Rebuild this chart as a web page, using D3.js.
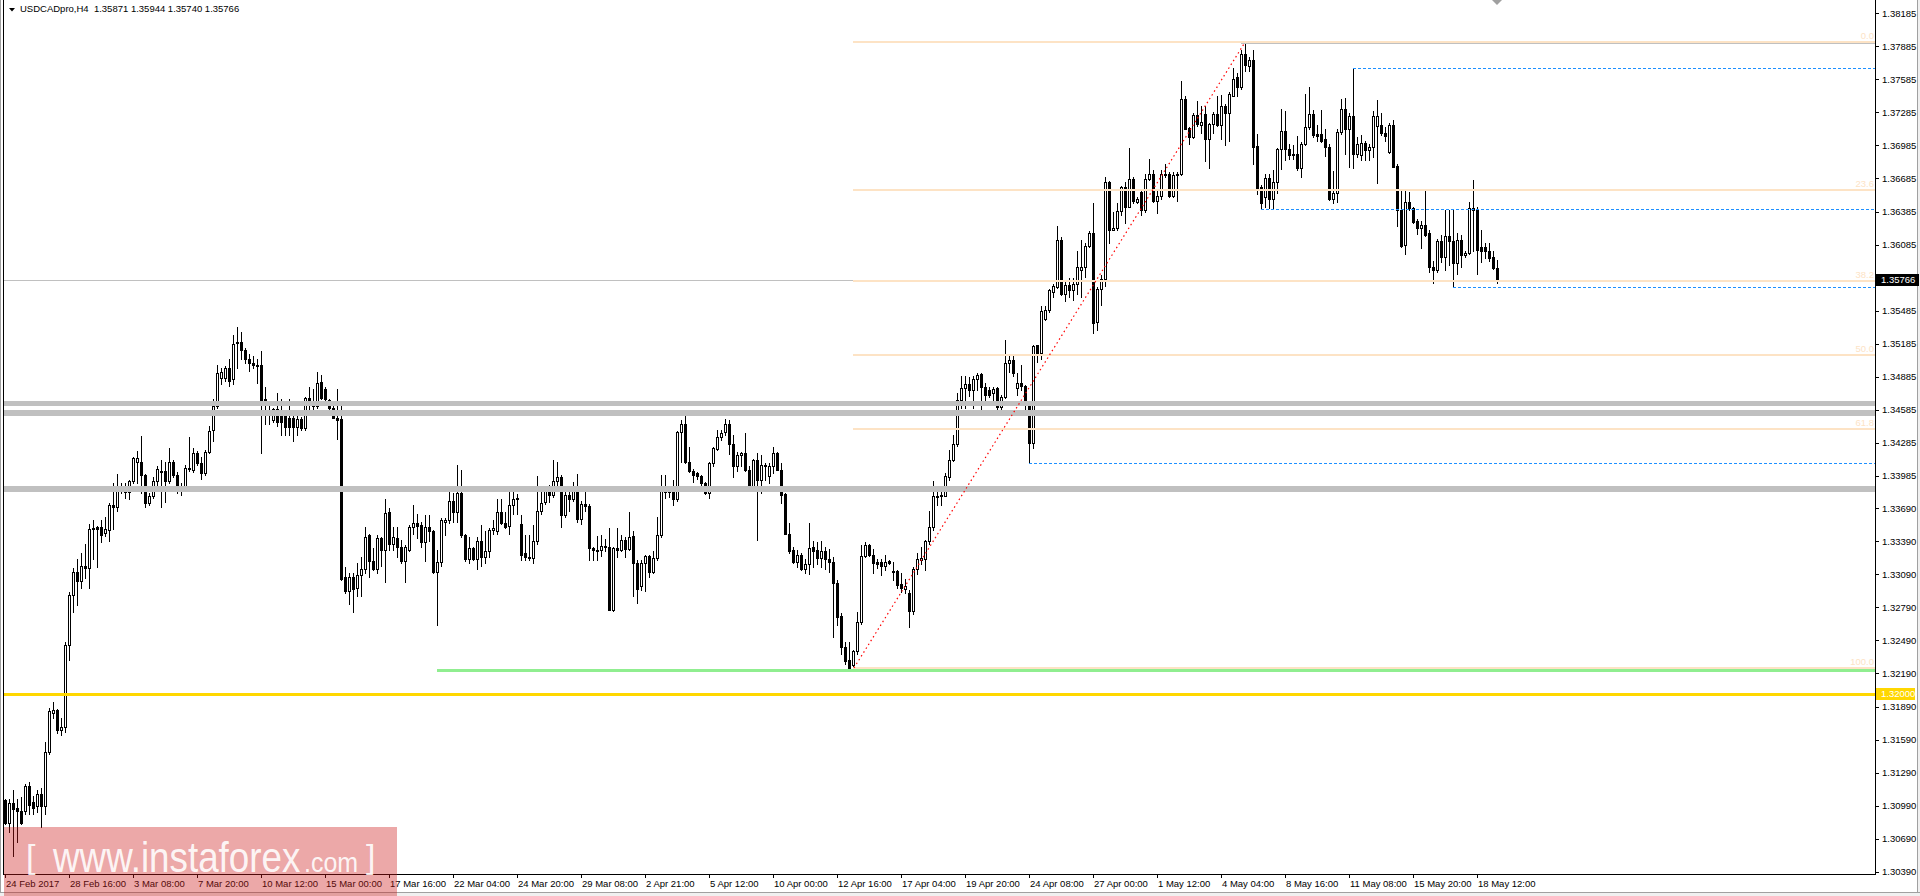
<!DOCTYPE html>
<html><head><meta charset="utf-8">
<script src="https://cdn.jsdelivr.net/npm/d3@7/dist/d3.min.js"></script>
<style>html,body{margin:0;padding:0;background:#fff;overflow:hidden}</style>
</head><body>
<svg id="c" width="1920" height="896"></svg>
<script>
// ---------- DATA ----------
const symbolTitle = "USDCADpro,H4  1.35871 1.35944 1.35740 1.35766";
// H4 candles: [open, high, low, close]
const ohlc = [
[1.3104,1.3105,1.3082,1.3083],[1.3083,1.3105,1.3075,1.3101],[1.3101,1.3113,1.3053,1.3096],[1.3097,1.3105,1.3066,1.3094],
[1.3094,1.3107,1.3082,1.3083],[1.3094,1.3119,1.3091,1.3117],[1.3117,1.3120,1.3091,1.3100],[1.3102,1.3108,1.3091,1.3097],
[1.3099,1.3113,1.3093,1.3110],[1.3110,1.3115,1.3080,1.3099],[1.3099,1.3157,1.3091,1.3148],[1.3148,1.3188,1.3146,1.3185],
[1.3183,1.3193,1.3179,1.3186],[1.3186,1.3187,1.3165,1.3168],[1.3168,1.3179,1.3163,1.3170],[1.3170,1.3248,1.3166,1.3245],
[1.3245,1.3293,1.3231,1.3290],[1.3290,1.3315,1.3275,1.3311],[1.3311,1.3323,1.3281,1.3303],[1.3303,1.3328,1.3297,1.3317],
[1.3317,1.3337,1.3306,1.3315],[1.3315,1.3355,1.3297,1.3350],[1.3350,1.3358,1.3323,1.3351],[1.3352,1.3353,1.3316,1.3350],
[1.3352,1.3358,1.3338,1.3345],[1.3347,1.3361,1.3344,1.3350],[1.3349,1.3374,1.3339,1.3372],[1.3372,1.3392,1.3350,1.3370],
[1.3370,1.3400,1.3367,1.3388],[1.3388,1.3392,1.3383,1.3386],[1.3387,1.3392,1.3378,1.3384],[1.3384,1.3395,1.3377,1.3394],
[1.3394,1.3416,1.3392,1.3415],[1.3411,1.3421,1.3392,1.3415],[1.3411,1.3435,1.3383,1.3399],[1.3399,1.3400,1.3370,1.3374],
[1.3374,1.3383,1.3372,1.3380],[1.3380,1.3397,1.3378,1.3394],[1.3394,1.3407,1.3385,1.3405],[1.3402,1.3413,1.3370,1.3403],
[1.3403,1.3411,1.3375,1.3394],[1.3394,1.3424,1.3392,1.3411],[1.3411,1.3413,1.3397,1.3399],[1.3399,1.3402,1.3383,1.3388],
[1.3388,1.3392,1.3381,1.3386],[1.3386,1.3408,1.3386,1.3406],[1.3405,1.3434,1.3403,1.3406],[1.3404,1.3424,1.3402,1.3419],
[1.3419,1.3421,1.3408,1.3410],[1.3410,1.3416,1.3396,1.3401],[1.3401,1.3422,1.3399,1.3420],[1.3420,1.3444,1.3419,1.3439],
[1.3440,1.3468,1.3430,1.3462],[1.3462,1.3499,1.3460,1.3492],[1.3487,1.3496,1.3482,1.3493],[1.3487,1.3498,1.3485,1.3496],
[1.3496,1.3505,1.3480,1.3485],[1.3486,1.3526,1.3482,1.3518],[1.3520,1.3534,1.3496,1.3519],[1.3520,1.3529,1.3505,1.3513],
[1.3513,1.3515,1.3501,1.3505],[1.3505,1.3509,1.3494,1.3501],[1.3501,1.3507,1.3496,1.3499],[1.3499,1.3505,1.3483,1.3498],
[1.3499,1.3512,1.3419,1.3466],[1.3468,1.3479,1.3446,1.3464],[1.3465,1.3466,1.3446,1.3463],[1.3449,1.3460,1.3447,1.3459],
[1.3459,1.3474,1.3444,1.3447],[1.3458,1.3468,1.3436,1.3447],[1.3458,1.3458,1.3436,1.3443],[1.3451,1.3468,1.3436,1.3443],
[1.3451,1.3455,1.3430,1.3443],[1.3443,1.3455,1.3436,1.3450],[1.3450,1.3452,1.3440,1.3442],[1.3442,1.3470,1.3440,1.3469],
[1.3469,1.3479,1.3454,1.3464],[1.3465,1.3477,1.3457,1.3462],[1.3462,1.3493,1.3460,1.3483],[1.3484,1.3490,1.3468,1.3469],
[1.3477,1.3479,1.3466,1.3468],[1.3467,1.3468,1.3458,1.3460],[1.3460,1.3465,1.3451,1.3451],[1.3451,1.3477,1.3432,1.3449],
[1.3450,1.3465,1.3304,1.3305],[1.3307,1.3316,1.3292,1.3294],[1.3294,1.3310,1.3282,1.3307],[1.3307,1.3310,1.3275,1.3296],
[1.3297,1.3319,1.3289,1.3308],[1.3308,1.3325,1.3289,1.3314],[1.3314,1.3352,1.3310,1.3343],[1.3345,1.3346,1.3307,1.3321],
[1.3321,1.3333,1.3313,1.3314],[1.3314,1.3345,1.3310,1.3342],[1.3342,1.3343,1.3317,1.3331],[1.3331,1.3377,1.3302,1.3365],
[1.3366,1.3369,1.3331,1.3337],[1.3337,1.3352,1.3331,1.3343],[1.3342,1.3352,1.3325,1.3334],[1.3334,1.3340,1.3319,1.3321],
[1.3321,1.3336,1.3302,1.3334],[1.3331,1.3354,1.3330,1.3352],[1.3352,1.3372,1.3346,1.3356],[1.3356,1.3364,1.3342,1.3353],
[1.3354,1.3357,1.3334,1.3338],[1.3338,1.3363,1.3321,1.3352],[1.3352,1.3363,1.3339,1.3348],[1.3348,1.3349,1.3310,1.3311],
[1.3311,1.3331,1.3263,1.3320],[1.3320,1.3360,1.3317,1.3358],[1.3357,1.3360,1.3345,1.3358],[1.3358,1.3386,1.3356,1.3376],
[1.3376,1.3383,1.3357,1.3366],[1.3366,1.3408,1.3357,1.3383],[1.3383,1.3404,1.3343,1.3345],[1.3345,1.3346,1.3321,1.3323],
[1.3323,1.3343,1.3319,1.3333],[1.3333,1.3334,1.3322,1.3323],[1.3323,1.3343,1.3314,1.3339],[1.3339,1.3354,1.3317,1.3325],
[1.3325,1.3348,1.3319,1.3330],[1.3330,1.3351,1.3325,1.3349],[1.3349,1.3358,1.3346,1.3351],[1.3348,1.3377,1.3346,1.3366],
[1.3366,1.3377,1.3355,1.3356],[1.3356,1.3366,1.3351,1.3352],[1.3353,1.3384,1.3346,1.3372],[1.3372,1.3385,1.3364,1.3377],
[1.3378,1.3382,1.3364,1.3378],[1.3355,1.3363,1.3322,1.3327],[1.3328,1.3345,1.3322,1.3325],[1.3325,1.3345,1.3322,1.3325],
[1.3324,1.3354,1.3319,1.3339],[1.3339,1.3398,1.3337,1.3367],[1.3367,1.3386,1.3364,1.3374],[1.3375,1.3388,1.3373,1.3386],
[1.3386,1.3390,1.3375,1.3381],[1.3381,1.3413,1.3379,1.3394],[1.3394,1.3411,1.3390,1.3397],[1.3397,1.3399,1.3352,1.3363],
[1.3363,1.3384,1.3361,1.3381],[1.3381,1.3386,1.3367,1.3377],[1.3377,1.3393,1.3376,1.3389],[1.3389,1.3400,1.3357,1.3359],
[1.3359,1.3376,1.3355,1.3373],[1.3373,1.3389,1.3367,1.3371],[1.3371,1.3373,1.3322,1.3333],[1.3333,1.3334,1.3322,1.3331],
[1.3331,1.3344,1.3322,1.3331],[1.3331,1.3345,1.3326,1.3335],[1.3335,1.3341,1.3330,1.3334],[1.3334,1.3351,1.3277,1.3277],
[1.3277,1.3334,1.3276,1.3333],[1.3333,1.3351,1.3325,1.3331],[1.3331,1.3345,1.3330,1.3340],[1.3340,1.3343,1.3325,1.3332],
[1.3332,1.3366,1.3331,1.3343],[1.3344,1.3348,1.3289,1.3319],[1.3319,1.3322,1.3283,1.3296],[1.3298,1.3322,1.3295,1.3319],
[1.3319,1.3327,1.3294,1.3326],[1.3326,1.3327,1.3307,1.3311],[1.3311,1.3330,1.3310,1.3324],[1.3324,1.3361,1.3322,1.3345],
[1.3345,1.3399,1.3343,1.3387],[1.3387,1.3399,1.3378,1.3384],[1.3384,1.3388,1.3379,1.3385],[1.3384,1.3395,1.3372,1.3377],
[1.3377,1.3439,1.3376,1.3438],[1.3438,1.3449,1.3411,1.3446],[1.3446,1.3455,1.3410,1.3411],[1.3411,1.3425,1.3402,1.3403],
[1.3403,1.3405,1.3393,1.3399],[1.3401,1.3402,1.3396,1.3398],[1.3398,1.3399,1.3385,1.3392],[1.3392,1.3393,1.3382,1.3383],
[1.3383,1.3411,1.3378,1.3410],[1.3410,1.3425,1.3407,1.3424],[1.3423,1.3440,1.3422,1.3434],[1.3434,1.3440,1.3431,1.3437],
[1.3438,1.3450,1.3436,1.3446],[1.3446,1.3449,1.3418,1.3427],[1.3427,1.3436,1.3397,1.3407],[1.3407,1.3420,1.3403,1.3417],
[1.3417,1.3420,1.3407,1.3419],[1.3419,1.3437,1.3403,1.3404],[1.3404,1.3407,1.3386,1.3386],[1.3387,1.3414,1.3386,1.3413],
[1.3413,1.3419,1.3340,1.3395],[1.3395,1.3417,1.3383,1.3408],[1.3408,1.3410,1.3395,1.3407],[1.3398,1.3410,1.3392,1.3407],
[1.3407,1.3425,1.3401,1.3419],[1.3419,1.3420,1.3404,1.3404],[1.3404,1.3410,1.3374,1.3381],[1.3382,1.3383,1.3346,1.3346],
[1.3346,1.3356,1.3328,1.3330],[1.3331,1.3334,1.3319,1.3320],[1.3320,1.3331,1.3316,1.3327],[1.3327,1.3328,1.3313,1.3314],
[1.3314,1.3323,1.3310,1.3318],[1.3318,1.3356,1.3309,1.3333],[1.3334,1.3339,1.3316,1.3330],[1.3331,1.3338,1.3318,1.3324],
[1.3324,1.3339,1.3316,1.3330],[1.3330,1.3334,1.3314,1.3323],[1.3323,1.3332,1.3311,1.3320],[1.3320,1.3325,1.3252,1.3301],
[1.3301,1.3304,1.3263,1.3270],[1.3271,1.3274,1.3237,1.3243],[1.3243,1.3248,1.3228,1.3230],[1.3231,1.3248,1.3222,1.3224],
[1.3227,1.3240,1.3224,1.3239],[1.3239,1.3275,1.3237,1.3266],[1.3266,1.3336,1.3264,1.3326],[1.3326,1.3338,1.3325,1.3336],
[1.3336,1.3337,1.3326,1.3327],[1.3327,1.3332,1.3310,1.3319],[1.3320,1.3323,1.3315,1.3318],[1.3320,1.3323,1.3308,1.3317],
[1.3317,1.3327,1.3313,1.3320],[1.3321,1.3322,1.3318,1.3319],[1.3312,1.3320,1.3304,1.3312],[1.3312,1.3313,1.3297,1.3299],
[1.3300,1.3310,1.3293,1.3297],[1.3296,1.3305,1.3292,1.3298],[1.3292,1.3295,1.3261,1.3276],[1.3276,1.3316,1.3273,1.3314],
[1.3314,1.3328,1.3309,1.3323],[1.3322,1.3334,1.3318,1.3324],[1.3323,1.3340,1.3313,1.3339],[1.3339,1.3367,1.3337,1.3352],
[1.3352,1.3394,1.3349,1.3380],[1.3380,1.3387,1.3372,1.3380],[1.3381,1.3389,1.3372,1.3380],[1.3380,1.3401,1.3380,1.3398],
[1.3397,1.3422,1.3395,1.3413],[1.3413,1.3436,1.3412,1.3427],[1.3427,1.3474,1.3426,1.3467],[1.3467,1.3489,1.3460,1.3478],
[1.3478,1.3489,1.3460,1.3482],[1.3482,1.3488,1.3471,1.3476],[1.3476,1.3489,1.3460,1.3486],[1.3486,1.3492,1.3476,1.3490],
[1.3491,1.3492,1.3455,1.3479],[1.3479,1.3483,1.3467,1.3472],[1.3476,1.3479,1.3470,1.3472],[1.3474,1.3479,1.3463,1.3477],
[1.3478,1.3479,1.3458,1.3461],[1.3461,1.3472,1.3458,1.3470],[1.3470,1.3522,1.3469,1.3501],[1.3501,1.3508,1.3493,1.3504],
[1.3504,1.3508,1.3489,1.3492],[1.3478,1.3492,1.3472,1.3483],[1.3483,1.3499,1.3476,1.3480],[1.3480,1.3481,1.3458,1.3463],
[1.3464,1.3464,1.3410,1.3428],[1.3428,1.3517,1.3424,1.3516],[1.3517,1.3517,1.3502,1.3510],[1.3510,1.3553,1.3505,1.3548],
[1.3541,1.3553,1.3540,1.3549],[1.3549,1.3568,1.3547,1.3567],[1.3565,1.3573,1.3561,1.3571],[1.3570,1.3625,1.3569,1.3613],
[1.3613,1.3615,1.3563,1.3564],[1.3564,1.3575,1.3557,1.3572],[1.3572,1.3578,1.3561,1.3567],[1.3567,1.3578,1.3558,1.3573],
[1.3573,1.3603,1.3564,1.3588],[1.3585,1.3613,1.3561,1.3588],[1.3588,1.3610,1.3579,1.3607],[1.3607,1.3621,1.3606,1.3619],
[1.3619,1.3646,1.3528,1.3537],[1.3538,1.3570,1.3531,1.3568],[1.3568,1.3581,1.3554,1.3577],[1.3577,1.3670,1.3571,1.3665],
[1.3665,1.3666,1.3610,1.3622],[1.3622,1.3638,1.3622,1.3624],[1.3624,1.3646,1.3622,1.3639],[1.3639,1.3662,1.3635,1.3661],
[1.3661,1.3665,1.3628,1.3643],[1.3643,1.3696,1.3643,1.3668],[1.3668,1.3670,1.3646,1.3648],[1.3647,1.3652,1.3646,1.3650],
[1.3656,1.3658,1.3635,1.3640],[1.3640,1.3673,1.3638,1.3668],[1.3668,1.3686,1.3667,1.3673],[1.3673,1.3676,1.3647,1.3648],
[1.3648,1.3658,1.3637,1.3653],[1.3653,1.3676,1.3650,1.3673],[1.3672,1.3682,1.3670,1.3673],[1.3673,1.3674,1.3652,1.3653],
[1.3653,1.3674,1.3652,1.3672],[1.3672,1.3674,1.3648,1.3673],[1.3673,1.3757,1.3672,1.3741],[1.3741,1.3743,1.3713,1.3713],
[1.3714,1.3715,1.3700,1.3706],[1.3706,1.3728,1.3705,1.3726],[1.3726,1.3739,1.3716,1.3718],[1.3717,1.3734,1.3710,1.3720],
[1.3727,1.3734,1.3684,1.3704],[1.3704,1.3719,1.3678,1.3718],[1.3718,1.3729,1.3710,1.3727],[1.3727,1.3743,1.3716,1.3717],
[1.3717,1.3744,1.3704,1.3734],[1.3734,1.3736,1.3699,1.3728],[1.3728,1.3747,1.3703,1.3745],[1.3743,1.3769,1.3743,1.3759],
[1.3761,1.3764,1.3743,1.3752],[1.3752,1.3785,1.3750,1.3782],[1.3782,1.3792,1.3766,1.3772],[1.3771,1.3779,1.3766,1.3776],
[1.3776,1.3785,1.3682,1.3697],[1.3698,1.3709,1.3654,1.3660],[1.3661,1.3663,1.3641,1.3646],[1.3652,1.3673,1.3643,1.3669],
[1.3669,1.3673,1.3642,1.3650],[1.3650,1.3676,1.3642,1.3665],[1.3665,1.3696,1.3655,1.3695],[1.3695,1.3732,1.3677,1.3712],
[1.3712,1.3730,1.3685,1.3695],[1.3695,1.3700,1.3686,1.3690],[1.3691,1.3699,1.3686,1.3691],[1.3691,1.3707,1.3676,1.3678],
[1.3678,1.3702,1.3670,1.3700],[1.3700,1.3745,1.3699,1.3715],[1.3715,1.3752,1.3713,1.3727],[1.3727,1.3731,1.3706,1.3708],
[1.3709,1.3717,1.3703,1.3707],[1.3709,1.3731,1.3702,1.3703],[1.3704,1.3713,1.3689,1.3697],[1.3697,1.3700,1.3649,1.3650],
[1.3650,1.3675,1.3646,1.3655],[1.3655,1.3713,1.3647,1.3711],[1.3711,1.3741,1.3709,1.3732],[1.3732,1.3742,1.3691,1.3713],
[1.3713,1.3728,1.3679,1.3725],[1.3725,1.3769,1.3678,1.3691],[1.3691,1.3706,1.3688,1.3700],[1.3690,1.3708,1.3685,1.3701],
[1.3701,1.3703,1.3685,1.3694],[1.3694,1.3700,1.3685,1.3697],[1.3697,1.3730,1.3688,1.3725],[1.3716,1.3740,1.3664,1.3725],
[1.3717,1.3728,1.3708,1.3710],[1.3710,1.3715,1.3703,1.3707],[1.3693,1.3719,1.3692,1.3717],[1.3717,1.3722,1.3679,1.3679],
[1.3680,1.3682,1.3625,1.3640],[1.3640,1.3657,1.3606,1.3607],[1.3608,1.3659,1.3600,1.3647],[1.3647,1.3656,1.3640,1.3642],
[1.3642,1.3643,1.3628,1.3629],[1.3630,1.3632,1.3618,1.3624],[1.3624,1.3630,1.3605,1.3626],[1.3626,1.3657,1.3616,1.3617],
[1.3619,1.3622,1.3584,1.3588],[1.3588,1.3594,1.3574,1.3585],[1.3585,1.3614,1.3584,1.3612],[1.3612,1.3617,1.3593,1.3597],
[1.3597,1.3640,1.3585,1.3616],[1.3616,1.3640,1.3590,1.3612],[1.3612,1.3640,1.3570,1.3592],[1.3592,1.3619,1.3582,1.3613],
[1.3613,1.3617,1.3588,1.3599],[1.3599,1.3603,1.3597,1.3601],[1.3601,1.3647,1.3600,1.3642],[1.3642,1.3667,1.3603,1.3640],
[1.3640,1.3643,1.3582,1.3604],[1.3606,1.3622,1.3593,1.3603],[1.3606,1.3610,1.3596,1.3603],[1.3603,1.3610,1.3594,1.3596],
[1.3597,1.3603,1.3586,1.3587],[1.35871,1.35944,1.35740,1.35766]
];
const dateLabels = ["24 Feb 2017","28 Feb 16:00","3 Mar 08:00","7 Mar 20:00","10 Mar 12:00","15 Mar 00:00",
 "17 Mar 16:00","22 Mar 04:00","24 Mar 20:00","29 Mar 08:00","2 Apr 21:00","5 Apr 12:00","10 Apr 00:00",
 "12 Apr 16:00","17 Apr 04:00","19 Apr 20:00","24 Apr 08:00","27 Apr 00:00","1 May 12:00","4 May 04:00",
 "8 May 16:00","11 May 08:00","15 May 20:00","18 May 12:00"];
const barsPerDateLabel = 16;
const priceTicks = [1.38185,1.37885,1.37585,1.37285,1.36985,1.36685,1.36385,1.36085,1.35485,1.35185,1.34885,
 1.34585,1.34285,1.33985,1.33690,1.33390,1.33090,1.32790,1.32490,1.32190,1.31890,1.31590,1.31290,1.30990,1.30690,1.30390];
const lastPrice = 1.35766;
const roundLevel = 1.32000;
const greyZones = [1.34643, 1.34553, 1.33862];
const fibLevels = [0, 23.6, 38.2, 50.0, 61.8, 100.0];
const fibLow = {bar: 212, price: 1.32241};
const fibHigh = {bar: 310, price: 1.37922};
const supportLine = {bar: 108, price: 1.32221};
const blueLevels = [{bar:337, price:1.37685},{bar:314, price:1.36405},{bar:362, price:1.35699},{bar:256, price:1.34098}];
const watermark = ["[", "www.instaforex", ".com", "]"];

// ---------- LAYOUT / STYLE ----------
const FONT = "'Liberation Sans', Arial, sans-serif";
const plotL = 4, plotR = 1875, plotB = 874;
const svg = d3.select('#c');
const x = d3.scaleLinear().domain([0, ohlc.length - 1]).range([5, 1497]);
const y = d3.scaleLinear().domain([1.30369, 1.38306]).range([plotB, 0]);
const px = v => Math.round(x(v));
const py = v => Math.round(y(v));

svg.append('rect').attr('width',1920).attr('height',896).attr('fill','#fff');

svg.append('clipPath').attr('id','plot').append('rect')
  .attr('x',plotL).attr('y',0).attr('width',plotR-plotL).attr('height',plotB);

// candles
const gC = svg.append('g').attr('shape-rendering','crispEdges').attr('clip-path','url(#plot)');
gC.selectAll('line.w').data(ohlc).join('line').attr('class','w')
  .attr('x1',(d,i)=>px(i)+0.5).attr('x2',(d,i)=>px(i)+0.5)
  .attr('y1',d=>py(d[1])).attr('y2',d=>py(d[2])+1)
  .attr('stroke','#000').attr('stroke-width',1);
gC.selectAll('rect.b').data(ohlc).join('rect').attr('class','b')
  .attr('x',(d,i)=>px(i)-0.5)
  .attr('y',d=>py(Math.max(d[0],d[3]))+0.5)
  .attr('width',2)
  .attr('height',d=>Math.max(py(Math.min(d[0],d[3]))-py(Math.max(d[0],d[3])),1))
  .attr('fill',d=>d[3]>=d[0]?'#fff':'#000')
  .attr('stroke','#000').attr('stroke-width',1);

// objects
const gO = svg.append('g').attr('clip-path','url(#plot)').attr('shape-rendering','crispEdges');
const zoneWidth = [5,6,6];
gO.selectAll('line.z').data(greyZones).join('line').attr('class','z')
  .attr('x1',plotL).attr('x2',plotR).attr('y1',d=>y(d)).attr('y2',d=>y(d))
  .attr('stroke','#c0c0c0').attr('stroke-width',(d,i)=>zoneWidth[i]);

// last price line
gO.append('line').attr('x1',plotL).attr('x2',plotR).attr('y1',py(lastPrice)+0.5).attr('y2',py(lastPrice)+0.5)
  .attr('stroke','#c0c0c0').attr('stroke-width',1);

// fibo
const fibPrice = l => fibHigh.price - l/100*(fibHigh.price - fibLow.price);
const FIB = '#fde3c5';
gO.selectAll('line.f').data(fibLevels).join('line').attr('class','f')
  .attr('x1',px(fibLow.bar)).attr('x2',plotR).attr('y1',d=>Math.round(y(fibPrice(d)))).attr('y2',d=>Math.round(y(fibPrice(d))))
  .attr('stroke',FIB).attr('stroke-width',2);
gO.append('line').attr('x1',px(fibHigh.bar)-4).attr('x2',plotR)
  .attr('y1',Math.round(y(fibHigh.price))+1.5).attr('y2',Math.round(y(fibHigh.price))+1.5)
  .attr('stroke','#c0c0c0').attr('stroke-width',1);
svg.append('g').selectAll('text').data(fibLevels).join('text')
  .attr('x',plotR-1).attr('y',d=>Math.round(y(fibPrice(d)))-3)
  .attr('text-anchor','end').attr('font-family',FONT).attr('font-size','9.5px').attr('fill',FIB)
  .text(d=>d.toFixed(1));

// support line (green)
gO.append('line').attr('x1',px(supportLine.bar)).attr('x2',plotR)
  .attr('y1',y(supportLine.price)).attr('y2',y(supportLine.price))
  .attr('stroke','#90ee90').attr('stroke-width',3);
// round level (gold)
gO.append('line').attr('x1',plotL).attr('x2',plotR)
  .attr('y1',y(roundLevel)).attr('y2',y(roundLevel))
  .attr('stroke','#ffd700').attr('stroke-width',3);

// blue dashed levels
gO.selectAll('line.bl').data(blueLevels).join('line').attr('class','bl')
  .attr('x1',d=>px(d.bar)).attr('x2',plotR).attr('y1',d=>py(d.price)+0.5).attr('y2',d=>py(d.price)+0.5)
  .attr('stroke','#1e90ff').attr('stroke-width',1).attr('stroke-dasharray','3,2');

// red dotted diagonal
svg.append('line').attr('x1',px(fibLow.bar)+1).attr('y1',y(fibLow.price))
  .attr('x2',px(fibHigh.bar)).attr('y2',y(fibHigh.price))
  .attr('stroke','#ff0000').attr('stroke-width',1.2).attr('stroke-dasharray','1.5,3');

// ---------- AXES ----------
const gA = svg.append('g').attr('shape-rendering','crispEdges');
gA.append('line').attr('x1',plotR+0.5).attr('x2',plotR+0.5).attr('y1',0).attr('y2',plotB+1).attr('stroke','#000');
gA.append('line').attr('x1',plotL).attr('x2',plotR+1).attr('y1',plotB+0.5).attr('y2',plotB+0.5).attr('stroke','#000');
gA.append('line').attr('x1',plotL-0.5).attr('x2',plotL-0.5).attr('y1',0).attr('y2',plotB+1).attr('stroke','#000');
gA.append('line').attr('x1',0.5).attr('x2',0.5).attr('y1',0).attr('y2',896).attr('stroke','#a0a0a0');
gA.append('line').attr('x1',1917.5).attr('x2',1917.5).attr('y1',0).attr('y2',896).attr('stroke','#a0a0a0');
gA.append('rect').attr('x',1918).attr('y',0).attr('width',2).attr('height',896).attr('fill','#f0f0f0');
gA.append('rect').attr('x',0).attr('y',893).attr('width',1920).attr('height',3).attr('fill','#f0f0f0');
gA.append('line').attr('x1',0).attr('x2',1920).attr('y1',892.5).attr('y2',892.5).attr('stroke','#a0a0a0');

const yAxis = d3.axisRight(y).tickValues(priceTicks).tickSize(4).tickPadding(3).tickFormat(d=>d.toFixed(5));
const gy = svg.append('g').attr('transform',`translate(${plotR},0)`).call(yAxis);
gy.select('.domain').remove();
gy.selectAll('.tick line').attr('stroke','#000').attr('shape-rendering','crispEdges');
gy.selectAll('.tick text').attr('font-family',FONT).attr('font-size','9.5px').attr('fill','#000');

const dateIdx = dateLabels.map((d,i)=>i*barsPerDateLabel);
const xAxis = d3.axisBottom(x).tickValues(dateIdx).tickSize(4).tickFormat((d,i)=>dateLabels[i]);
const gx = svg.append('g').attr('transform',`translate(0.5,${plotB})`).call(xAxis);
gx.select('.domain').remove();
gx.selectAll('.tick line').attr('stroke','#000').attr('shape-rendering','crispEdges').attr('transform','translate(-1,0)');
gx.selectAll('.tick text').attr('font-family',FONT).attr('font-size','9.5px').attr('fill','#000')
  .attr('text-anchor','start').attr('x',0).attr('y',6).attr('dy','0.71em');

// price labels on axis
function axisBox(price, bg, w){
  const yy = py(price);
  svg.append('rect').attr('x',plotR+1).attr('y',yy-6).attr('width',w).attr('height',12).attr('fill',bg);
  svg.append('text').attr('x',plotR+6).attr('y',yy).attr('dy','0.34em')
    .attr('font-family',FONT).attr('font-size','9.5px').attr('fill','#fff').text(price.toFixed(5));
}
axisBox(lastPrice,'#000',43);
axisBox(roundLevel,'#ffd700',39);

// chart shift marker
svg.append('path').attr('d','M1492,0 L1502,0 L1497,5 Z').attr('fill','#a0a0a0');

// title
svg.append('path').attr('d','M9,8 L15,8 L12,11.5 Z').attr('fill','#000');
svg.append('text').attr('x',20).attr('y',12).attr('font-family',FONT).attr('font-size','9.5px')
  .attr('fill','#000').attr('xml:space','preserve').style('white-space','pre').text(symbolTitle);

// watermark
const gW = svg.append('g');
gW.append('rect').attr('x',4).attr('y',827).attr('width',393).attr('height',69)
  .attr('fill','rgb(205,25,25)').attr('fill-opacity',0.38);
const wmSpec = [
  {x:26, y:868, fs:34, sy:1},
  {x:53, y:872, fs:36.8, sy:1.14},
  {x:304, y:872, fs:25, sy:1.12},
  {x:366, y:868, fs:34, sy:1}
];
gW.selectAll('text').data(watermark).join('text')
  .attr('transform',(d,i)=>`translate(${wmSpec[i].x},${wmSpec[i].y}) scale(1,${wmSpec[i].sy})`)
  .attr('x',0).attr('y',0)
  .attr('font-family',FONT).attr('font-size',(d,i)=>wmSpec[i].fs+'px')
  .attr('fill','#fff').attr('fill-opacity',0.9)
  .text(d=>d);
</script>
</body></html>
